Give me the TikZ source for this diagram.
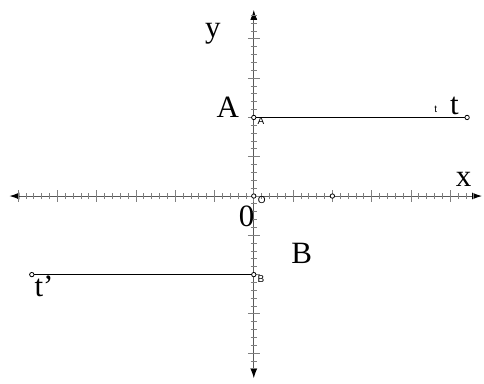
\documentclass[tikz,border=0pt]{standalone}
\usepackage{fontspec}
\setmainfont{Liberation Serif}
\newfontfamily\smallsans{Liberation Sans}
\usetikzlibrary{arrows.meta}
\begin{document}
\begin{tikzpicture}[x=39.3pt, y=39.3pt, thick,
        biglabel/.style={font=\fontsize{31}{33}\selectfont, inner sep=0pt},
        smalllabel/.style={font=\smallsans\fontsize{10}{11}\selectfont, inner sep=0pt},
        dot/.style={draw=black, fill=white, line width=0.8pt}]
        \useasboundingbox (-6.46,-4.76) rectangle (5.86,4.99);
        % axes
        \coordinate (origin) at (0,0);
        \coordinate (x-left) at (-6.22,0);
        \coordinate (x-right) at (5.81,0);
        \coordinate (y-top) at (0,4.74);
        \coordinate (y-bottom) at (0,-4.64);
        \draw[gray!70!black, line width=1pt, {Latex[black,length=10pt,width=7pt]}-{Latex[black,length=10pt,width=7pt]}] (x-left) -- (x-right);
        \draw[gray!70!black, line width=1pt, {Latex[black,length=10pt,width=7pt]}-{Latex[black,length=10pt,width=7pt]}] (y-bottom) -- (y-top);
        % ticks
        \foreach \k in {-30,...,28} {
            \pgfmathtruncatemacro\major{mod(abs(\k),5)==0 ? 1 : 0}
            \ifnum\major=1
                \draw[gray, line width=0.8pt] (\k/5,-0.15) -- (\k/5,0.15);
            \else
                \draw[gray, line width=0.8pt] (\k/5,-0.08) -- (\k/5,0.08);
            \fi
        }
        \foreach \k in {-22,...,23} {
            \pgfmathtruncatemacro\major{mod(abs(\k),5)==0 ? 1 : 0}
            \ifnum\major=1
                \draw[gray, line width=0.8pt] (-0.15,\k/5) -- (0.15,\k/5);
            \else
                \draw[gray, line width=0.8pt] (-0.08,\k/5) -- (0.08,\k/5);
            \fi
        }
        % rays
        \coordinate (A) at (0,2);
        \coordinate (B) at (0,-2);
        \coordinate (t-end) at (5.43,2);
        \coordinate (t'-end) at (-5.65,-2);
        \coordinate (P) at (2,0);
        \draw[black, line width=1pt] (A) -- (t-end);
        \draw[black, line width=1pt] (B) -- (t'-end);
        \foreach \pt in {origin,A,B,t-end,t'-end,P}
            \draw[dot] (\pt) circle (2.2pt);
        % labels
        \node[biglabel] (label-y) at (-1.04,4.12) {y};
        \node[biglabel] (label-A) at (-0.66,2.27) {A};
        \node[biglabel] (label-t) at (5.11,2.3) {t};
        \node[biglabel] (label-x) at (5.34,0.42) {x};
        \node[biglabel] (label-0) at (-0.18,-0.52) {0};
        \node[biglabel] (label-B) at (1.22,-1.45) {B};
        \node[biglabel] (label-t') at (-5.34,-2.3) {t’};
        \node[smalllabel] (small-t) at (4.63,2.2) {t};
        \node[smalllabel] (small-O) at (0.2,-0.1) {O};
        \node[smalllabel] (small-A) at (0.18,1.9) {A};
        \node[smalllabel] (small-B) at (0.18,-2.12) {B};
    \end{tikzpicture}
\end{document}
